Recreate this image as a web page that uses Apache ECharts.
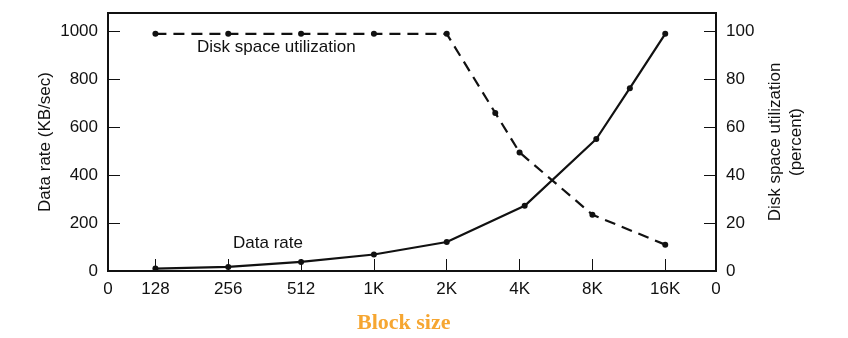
<!DOCTYPE html>
<html>
<head>
<meta charset="utf-8">
<script src="https://cdn.jsdelivr.net/npm/echarts@6/dist/echarts.min.js"></script>
<style>
html,body{margin:0;padding:0;background:#fff;}
#chart{width:848px;height:338px;}
</style>
</head>
<body>
<div id="chart"></div>
<script>
// Block sizes (bytes) of tick marks and their labels
var tickSizes = [128, 256, 512, 1024, 2048, 4096, 8192, 16384];
var tickLabels = ['128', '256', '512', '1K', '2K', '4K', '8K', '16K'];
var endLabel = '0';

// Data rate series (KB/sec)
var rateSizes = [128, 256, 512, 1024, 2048, 4300, 8500, 11700, 16384];
var rateValues = [10, 17, 38, 69, 121, 272, 551, 763, 990];

// Disk space utilization series (percent)
var diskSizes = [128, 256, 512, 1024, 2048, 3250, 4096, 8192, 16384];
var diskValues = [99, 99, 99, 99, 99, 66, 49.5, 23.5, 11];

var xMin = 6.349, xMax = 14.697;
var leftMax = 1077, rightMax = 107.7;

function lg(v) { return Math.log2(v); }
function pairs(xs, ys) { return xs.map(function (x, i) { return [lg(x), ys[i]]; }); }

var tickPos = tickSizes.map(lg);
var labelPos = [xMin].concat(tickPos).concat([xMax]);

var FONT = "'Liberation Sans', Arial, Helvetica, sans-serif";
var INK = '#111';
var FS = 17;

function plain(v) { return String(v); }

var chart = echarts.init(document.getElementById('chart'));
chart.setOption({
  animation: false,
  backgroundColor: '#fff',
  grid: {
    left: 108, right: 132, top: 13, bottom: 67,
    show: true, borderColor: INK, borderWidth: 2, backgroundColor: 'transparent'
  },
  xAxis: {
    type: 'value', min: xMin, max: xMax,
    axisLine: { show: true, lineStyle: { color: INK, width: 2 } },
    axisTick: { show: true, inside: true, length: 12, customValues: tickPos, lineStyle: { color: INK, width: 1 } },
    axisLabel: {
      customValues: labelPos, margin: 10, color: INK, fontSize: FS, fontFamily: FONT,
      formatter: function (v) {
        for (var i = 0; i < tickPos.length; i++) {
          if (Math.abs(tickPos[i] - v) < 1e-6) return tickLabels[i];
        }
        return endLabel;
      }
    },
    splitLine: { show: false }
  },
  yAxis: [
    {
      type: 'value', min: 0, max: leftMax, interval: 200, position: 'left',
      name: 'Data rate (KB/sec)', nameLocation: 'middle', nameRotate: 90, nameGap: 54, nameMoveOverlap: false,
      nameTextStyle: { color: INK, fontSize: FS, fontFamily: FONT },
      axisLine: { show: true, lineStyle: { color: INK, width: 2 } },
      axisTick: { show: true, inside: true, length: 12, lineStyle: { color: INK, width: 1 } },
      axisLabel: { margin: 10, color: INK, fontSize: FS, fontFamily: FONT, showMaxLabel: false, formatter: plain },
      splitLine: { show: false }
    },
    {
      type: 'value', min: 0, max: rightMax, interval: 20, position: 'right',
      name: 'Disk space utilization\n(percent)', nameLocation: 'middle', nameRotate: 90, nameGap: 47,
      nameTextStyle: { color: INK, fontSize: FS, fontFamily: FONT, lineHeight: 21 },
      axisLine: { show: true, lineStyle: { color: INK, width: 2 } },
      axisTick: { show: true, inside: true, length: 12, lineStyle: { color: INK, width: 1 } },
      axisLabel: { margin: 10, color: INK, fontSize: FS, fontFamily: FONT, showMaxLabel: false, formatter: plain },
      splitLine: { show: false }
    }
  ],
  series: [
    {
      name: 'Data rate', type: 'line', yAxisIndex: 0,
      data: pairs(rateSizes, rateValues),
      symbol: 'circle', symbolSize: 6,
      itemStyle: { color: INK },
      lineStyle: { color: INK, width: 2.2 }
    },
    {
      name: 'Disk space utilization', type: 'line', yAxisIndex: 1,
      data: pairs(diskSizes, diskValues),
      symbol: 'circle', symbolSize: 6,
      itemStyle: { color: INK },
      lineStyle: { color: INK, width: 2.2, type: [11, 7] }
    }
  ],
  graphic: [
    { type: 'text', left: 197, top: 39, style: { text: 'Disk space utilization', fill: INK, font: FS + 'px ' + FONT } },
    { type: 'text', left: 233, top: 235, style: { text: 'Data rate', fill: INK, font: FS + 'px ' + FONT } },
    { type: 'text', left: 357, top: 312, style: {
        text: 'Block size', fill: '#F6A631', font: 'bold 22px "Liberation Serif", "Times New Roman", serif',
        shadowColor: 'rgba(0,0,0,0.35)', shadowBlur: 2, shadowOffsetX: 2, shadowOffsetY: 2
      } }
  ]
});
</script>
</body>
</html>
